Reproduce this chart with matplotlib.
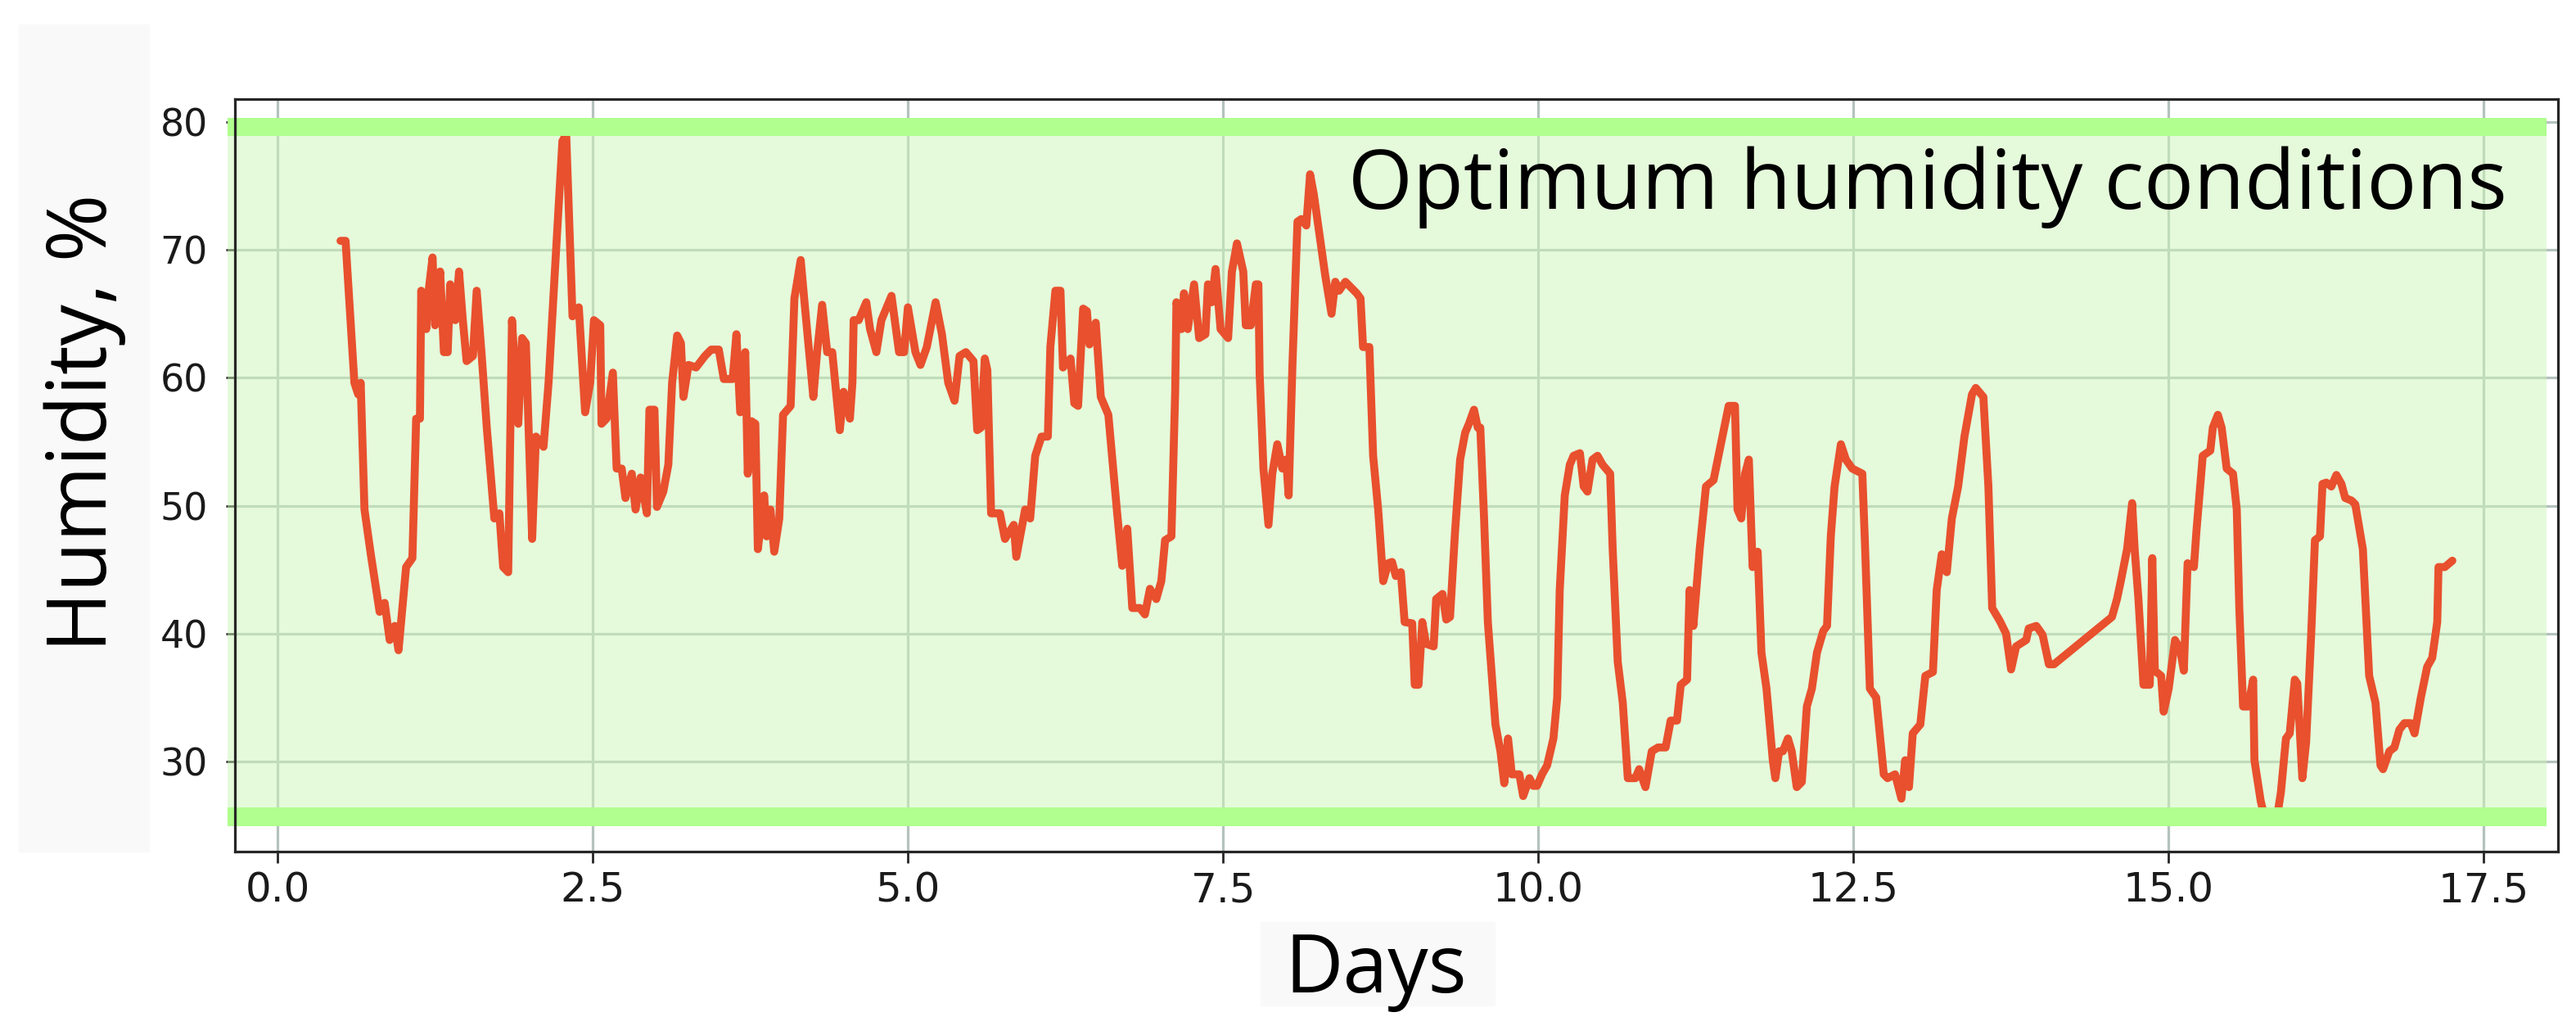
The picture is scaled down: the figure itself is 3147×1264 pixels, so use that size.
import matplotlib.pyplot as plt
from matplotlib.patches import Rectangle

# humidity readings
days = [
    0.50, 0.54, 0.57, 0.61, 0.64, 0.66, 0.69, 0.74, 0.81, 0.85,
    0.89, 0.93, 0.96, 1.02, 1.07, 1.10, 1.13, 1.14, 1.18, 1.20,
    1.23, 1.25, 1.29, 1.32, 1.35, 1.37, 1.41, 1.44, 1.47, 1.50,
    1.55, 1.58, 1.62, 1.66, 1.72, 1.76, 1.79, 1.83, 1.86, 1.91,
    1.94, 1.97, 2.02, 2.05, 2.11, 2.15, 2.20, 2.26, 2.29, 2.34,
    2.39, 2.44, 2.48, 2.51, 2.56, 2.57, 2.61, 2.66, 2.69, 2.73,
    2.76, 2.81, 2.84, 2.88, 2.93, 2.95, 2.99, 3.01, 3.06, 3.10,
    3.13, 3.17, 3.20, 3.22, 3.26, 3.32, 3.39, 3.44, 3.50, 3.54,
    3.61, 3.64, 3.67, 3.71, 3.73, 3.76, 3.79, 3.81, 3.86, 3.88,
    3.91, 3.94, 3.98, 4.01, 4.07, 4.10, 4.15, 4.18, 4.25, 4.28,
    4.32, 4.36, 4.40, 4.46, 4.49, 4.54, 4.56, 4.57, 4.61, 4.67,
    4.70, 4.75, 4.79, 4.87, 4.93, 4.97, 5.00, 5.06, 5.10, 5.15,
    5.22, 5.27, 5.32, 5.37, 5.41, 5.46, 5.52, 5.55, 5.58, 5.61,
    5.63, 5.66, 5.73, 5.77, 5.84, 5.86, 5.93, 5.97, 6.01, 6.06,
    6.11, 6.13, 6.17, 6.21, 6.23, 6.29, 6.32, 6.35, 6.39, 6.42,
    6.44, 6.49, 6.53, 6.59, 6.66, 6.70, 6.74, 6.78, 6.84, 6.88,
    6.92, 6.97, 7.01, 7.04, 7.09, 7.12, 7.13, 7.17, 7.19, 7.22,
    7.27, 7.31, 7.36, 7.38, 7.41, 7.44, 7.48, 7.54, 7.57, 7.61,
    7.66, 7.68, 7.72, 7.76, 7.78, 7.79, 7.82, 7.86, 7.89, 7.93,
    7.97, 8.00, 8.02, 8.05, 8.09, 8.12, 8.16, 8.19, 8.22, 8.27,
    8.31, 8.36, 8.39, 8.42, 8.47, 8.51, 8.56, 8.59, 8.61, 8.66,
    8.69, 8.73, 8.77, 8.81, 8.84, 8.87, 8.91, 8.94, 9.00, 9.02,
    9.05, 9.08, 9.11, 9.17, 9.19, 9.24, 9.27, 9.30, 9.34, 9.38,
    9.42, 9.45, 9.49, 9.52, 9.54, 9.57, 9.60, 9.66, 9.70, 9.73,
    9.76, 9.79, 9.85, 9.88, 9.93, 9.96, 9.99, 10.03, 10.07, 10.12,
    10.15, 10.17, 10.21, 10.25, 10.28, 10.33, 10.36, 10.39, 10.43, 10.47,
    10.51, 10.57, 10.59, 10.63, 10.67, 10.71, 10.77, 10.80, 10.85, 10.90,
    10.95, 11.01, 11.05, 11.10, 11.13, 11.18, 11.20, 11.23, 11.28, 11.33,
    11.39, 11.46, 11.51, 11.56, 11.58, 11.61, 11.64, 11.67, 11.70, 11.74,
    11.77, 11.81, 11.86, 11.88, 11.91, 11.94, 11.98, 12.01, 12.05, 12.09,
    12.13, 12.17, 12.21, 12.26, 12.29, 12.32, 12.35, 12.40, 12.44, 12.49,
    12.57, 12.59, 12.63, 12.68, 12.74, 12.77, 12.83, 12.88, 12.91, 12.94,
    12.97, 13.03, 13.07, 13.13, 13.16, 13.20, 13.24, 13.28, 13.33, 13.38,
    13.44, 13.47, 13.53, 13.57, 13.60, 13.66, 13.71, 13.75, 13.79, 13.87,
    13.89, 13.95, 14.00, 14.05, 14.09, 14.55, 14.59, 14.62, 14.67, 14.71,
    14.73, 14.76, 14.80, 14.85, 14.87, 14.89, 14.94, 14.96, 15.00, 15.05,
    15.09, 15.12, 15.15, 15.20, 15.22, 15.27, 15.33, 15.35, 15.39, 15.42,
    15.46, 15.51, 15.54, 15.56, 15.59, 15.63, 15.67, 15.68, 15.73, 15.76,
    15.86, 15.89, 15.93, 15.96, 16.00, 16.02, 16.06, 16.09, 16.13, 16.16,
    16.20, 16.22, 16.25, 16.29, 16.33, 16.37, 16.40, 16.45, 16.48, 16.54,
    16.59, 16.64, 16.68, 16.70, 16.75, 16.79, 16.83, 16.87, 16.92, 16.95,
    17.00, 17.05, 17.09, 17.13, 17.14, 17.19, 17.25,
]
humidity = [
    70.7, 70.7, 65.9, 59.6, 58.7, 59.6, 49.7, 46.2, 41.7, 42.4,
    39.5, 40.6, 38.7, 45.2, 45.9, 56.8, 56.8, 66.8, 63.8, 66.9,
    69.4, 64.1, 68.3, 62.0, 62.0, 67.3, 64.5, 68.3, 64.5, 61.3,
    61.7, 66.8, 61.7, 56.1, 49.0, 49.4, 45.2, 44.8, 64.5, 56.4,
    63.1, 62.7, 47.4, 55.4, 54.6, 59.6, 68.3, 78.5, 79.0, 64.8,
    65.5, 57.3, 59.6, 64.5, 64.1, 56.4, 56.8, 60.4, 52.9, 52.9,
    50.6, 52.5, 49.7, 52.2, 49.4, 57.5, 57.5, 49.9, 51.1, 53.2,
    59.6, 63.3, 62.7, 58.5, 61.0, 60.8, 61.7, 62.2, 62.2, 59.9,
    59.9, 63.4, 57.3, 62.0, 52.5, 56.6, 56.4, 46.6, 50.8, 47.6,
    49.7, 46.4, 49.0, 57.1, 57.8, 66.2, 69.2, 65.9, 58.5, 62.0,
    65.7, 62.0, 62.0, 55.9, 58.9, 56.8, 59.6, 64.5, 64.5, 65.9,
    63.8, 62.0, 64.5, 66.4, 62.0, 62.0, 65.5, 62.0, 61.0, 62.4,
    65.9, 63.4, 59.6, 58.2, 61.7, 62.0, 61.3, 55.9, 56.1, 61.5,
    60.6, 49.4, 49.4, 47.4, 48.5, 46.0, 49.7, 49.0, 53.9, 55.4,
    55.4, 62.4, 66.8, 66.8, 60.8, 61.5, 58.0, 57.8, 65.4, 65.2,
    62.6, 64.3, 58.5, 57.1, 49.4, 45.3, 48.2, 42.0, 42.0, 41.5,
    43.5, 42.7, 44.1, 47.3, 47.6, 58.9, 65.9, 63.8, 66.6, 63.8,
    67.3, 63.1, 63.4, 67.3, 65.9, 68.5, 63.8, 63.1, 68.3, 70.5,
    68.3, 64.1, 64.1, 67.3, 67.3, 60.3, 52.9, 48.5, 52.5, 54.8,
    52.9, 53.6, 50.8, 61.0, 72.2, 72.4, 71.9, 75.9, 74.3, 70.8,
    68.0, 65.0, 67.5, 66.8, 67.5, 67.1, 66.6, 66.2, 62.4, 62.4,
    53.9, 49.7, 44.1, 45.5, 45.6, 44.5, 44.8, 40.9, 40.8, 36.0,
    36.0, 40.9, 39.2, 39.0, 42.7, 43.1, 41.1, 41.3, 48.0, 53.6,
    55.7, 56.4, 57.5, 56.1, 56.1, 49.0, 40.9, 32.9, 30.8, 28.3,
    31.8, 29.0, 29.0, 27.3, 28.7, 28.1, 28.1, 29.0, 29.7, 31.8,
    35.0, 43.4, 50.8, 53.2, 53.9, 54.1, 51.5, 51.1, 53.6, 53.9,
    53.2, 52.5, 46.6, 37.8, 34.6, 28.7, 28.7, 29.4, 28.0, 30.8,
    31.1, 31.1, 33.2, 33.2, 36.0, 36.4, 43.4, 40.6, 46.6, 51.5,
    52.0, 55.4, 57.8, 57.8, 49.7, 49.0, 52.5, 53.6, 45.2, 46.4,
    38.5, 35.7, 30.1, 28.7, 30.8, 30.8, 31.8, 30.8, 28.0, 28.4,
    34.3, 35.7, 38.5, 40.2, 40.6, 47.6, 51.5, 54.8, 53.6, 52.9,
    52.5, 47.3, 35.7, 35.0, 29.0, 28.7, 29.0, 27.1, 30.1, 28.0,
    32.2, 32.9, 36.7, 37.0, 43.4, 46.2, 44.8, 49.0, 51.5, 55.4,
    58.7, 59.2, 58.5, 51.5, 42.0, 41.0, 40.0, 37.2, 39.0, 39.5,
    40.4, 40.6, 39.9, 37.6, 37.6, 41.3, 42.7, 44.1, 46.6, 50.2,
    46.6, 42.7, 36.0, 36.0, 45.9, 37.1, 36.7, 33.9, 35.7, 39.5,
    38.8, 37.1, 45.5, 45.2, 48.0, 53.9, 54.3, 56.1, 57.1, 56.1,
    52.9, 52.5, 49.7, 42.0, 34.3, 34.3, 36.4, 30.1, 26.9, 25.7,
    25.7, 27.6, 31.8, 32.2, 36.4, 36.1, 28.7, 31.5, 39.9, 47.3,
    47.6, 51.7, 51.8, 51.5, 52.4, 51.7, 50.6, 50.4, 50.1, 46.6,
    36.7, 34.6, 29.7, 29.4, 30.8, 31.1, 32.5, 33.0, 33.0, 32.2,
    35.0, 37.4, 38.1, 40.9, 45.2, 45.2, 45.7,
]

# optimum humidity band
band_low = 25.7
band_high = 79.6

fig = plt.figure(figsize=(31.47, 12.64), dpi=100)

# light grey patches left behind the pasted labels
fig.add_artist(Rectangle((23 / 3147, 1 - 1040 / 1264), 159 / 3147, 1010 / 1264,
                         transform=fig.transFigure, color='#f9f9f9', zorder=0))
fig.add_artist(Rectangle((1540 / 3147, 1 - 1228 / 1264), 286 / 3147, 102 / 1264,
                         transform=fig.transFigure, color='#f9f9f9', zorder=0))

ax = fig.add_axes([0.0912, 0.1772, 0.9018, 0.7267])
ax.patch.set_alpha(0)

ax.plot(days, humidity, color='#e8502e', lw=7, zorder=2,
        solid_joinstyle='round', solid_capstyle='round')

ax.add_patch(Rectangle((-0.395, band_low), 18.395, band_high - band_low,
                       color='#cdf7b8', alpha=0.5, lw=0, zorder=1, clip_on=False))
for lvl in (band_low, band_high):
    ax.add_patch(Rectangle((-0.395, lvl - 0.73), 18.395, 1.46,
                           color='#b0ff8f', lw=0, zorder=3, clip_on=False))

ax.set_xlim(-0.3375, 18.0875)
ax.set_ylim(22.96, 81.75)
ax.set_axisbelow(True)
ax.grid(color='#b4c2bd', lw=2.3)

for s in ax.spines.values():
    s.set_color('#262626')
    s.set_linewidth(2.3)
    s.set_zorder(4)
ax.tick_params(axis='x', length=10, width=2, pad=7, labelsize=36,
               color='#262626', labelcolor='#1a1a1a')
ax.tick_params(axis='y', length=8, width=2, pad=16, labelsize=33,
               color='#262626', labelcolor='#1a1a1a')

fig.text(0.0413, 0.5918, 'Humidity, %', family='Open Sans', fontsize=72,
         rotation=90, rotation_mode='anchor', ha='center', va='baseline')
fig.text(0.534, 0.0411, 'Days', family='Open Sans', fontsize=71,
         ha='center', va='baseline')
fig.text(0.5234, 0.7983, 'Optimum humidity conditions', family='Open Sans',
         fontsize=73, ha='left', va='baseline', zorder=5)

plt.savefig('out.png', dpi=100)
